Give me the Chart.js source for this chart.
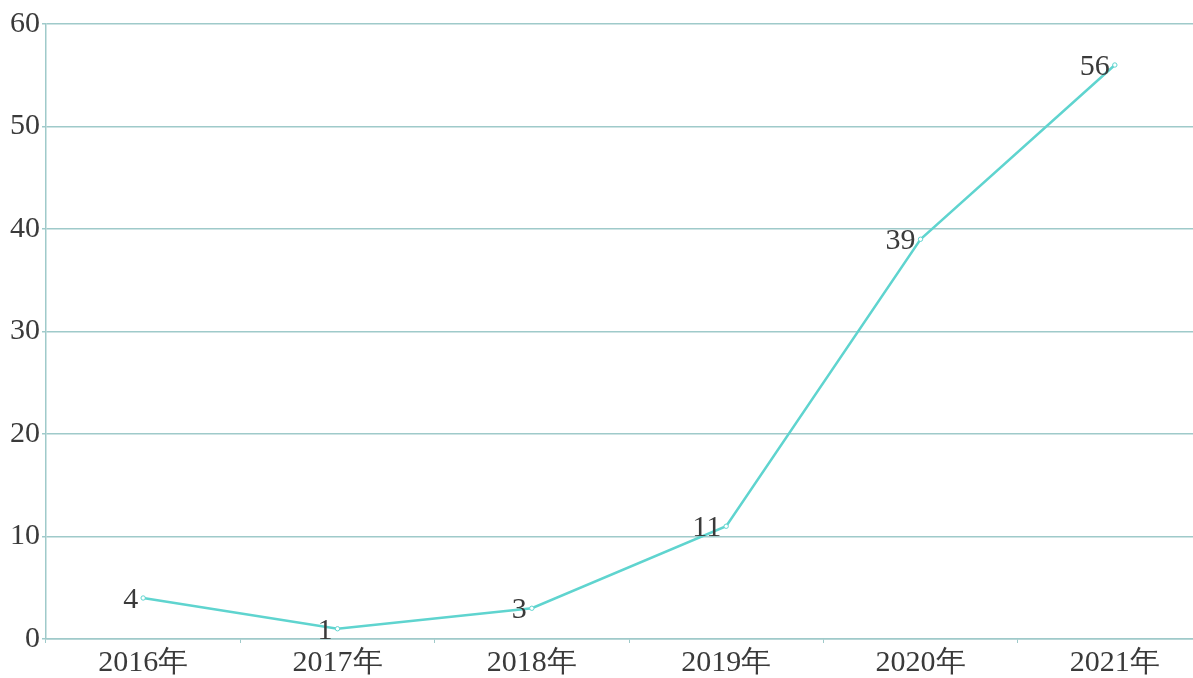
<!DOCTYPE html>
<html>
<head>
<meta charset="utf-8">
<script src="https://cdn.jsdelivr.net/npm/chart.js@4"></script>
<style>
  html, body { margin: 0; padding: 0; background: #fff; overflow: hidden; }
  #wrap { width: 1217px; height: 678px; }
</style>
</head>
<body>
<div id="wrap"><canvas id="trend"></canvas></div>
<script>
const years = ['2016年', '2017年', '2018年', '2019年', '2020年', '2021年'];
const counts = [4, 1, 3, 11, 39, 56];
const yTicks = [0, 10, 20, 30, 40, 50, 60];

const gridColor = '#9fcaca';
const lineColor = '#5fd4cf';
const textColor = '#3a3a3a';
const serif = '"Liberation Serif", "DejaVu Serif", serif';

// number next to each point, sitting just left of it
const pointLabels = {
  id: 'pointLabels',
  afterDatasetsDraw(chart) {
    const ctx = chart.ctx;
    const meta = chart.getDatasetMeta(0);
    ctx.save();
    ctx.font = '30px ' + serif;
    ctx.fillStyle = textColor;
    ctx.textAlign = 'right';
    ctx.textBaseline = 'middle';
    meta.data.forEach((pt, i) => {
      ctx.fillText(counts[i], pt.x - 5, pt.y + 2);
    });
    ctx.restore();
  }
};

const ctx = document.getElementById('trend').getContext('2d');
new Chart(ctx, {
  type: 'line',
  data: {
    labels: years,
    datasets: [{
      data: counts,
      borderColor: lineColor,
      borderWidth: 2.5,
      backgroundColor: '#ffffff',
      pointRadius: 2.2,
      pointBorderWidth: 1,
      pointBorderColor: lineColor,
      tension: 0
    }]
  },
  options: {
    responsive: true,
    maintainAspectRatio: false,
    animation: false,
    layout: { padding: { top: 24, right: 0, left: 0, bottom: 0 } },
    plugins: {
      legend: { display: false },
      tooltip: { enabled: false }
    },
    scales: {
      x: {
        offset: true,
        afterFit: s => { s.height = 39; },
        grid: {
          display: true,
          offset: true,
          drawOnChartArea: false,
          drawTicks: true,
          tickLength: 4,
          color: gridColor
        },
        border: { color: gridColor, width: 1.5 },
        ticks: {
          color: textColor,
          font: { family: serif, size: 30 },
          padding: 2,
          maxRotation: 0
        }
      },
      y: {
        min: 0,
        max: 60,
        afterFit: s => { s.width = 46; },
        afterBuildTicks: s => { s.ticks = yTicks.map(v => ({ value: v })); },
        grid: {
          color: gridColor,
          lineWidth: 1.5,
          drawTicks: true,
          tickLength: 4
        },
        border: { color: gridColor, width: 1.5 },
        ticks: {
          color: textColor,
          font: { family: serif, size: 30 },
          padding: 2
        }
      }
    }
  },
  plugins: [pointLabels]
});
</script>
</body>
</html>
